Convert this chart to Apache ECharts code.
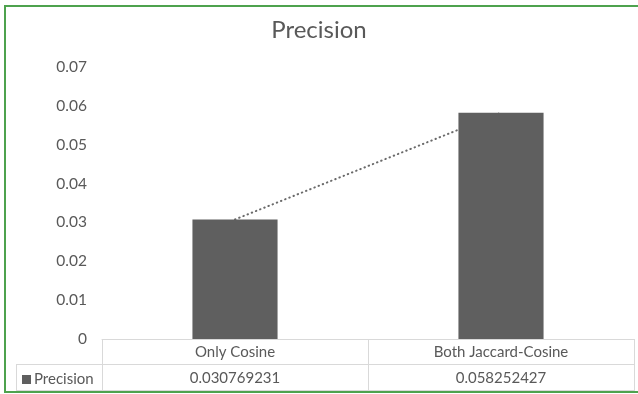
<!DOCTYPE html>
<html>
<head>
<meta charset="utf-8">
<script src="https://cdn.jsdelivr.net/npm/echarts@6/dist/echarts.min.js"></script>
<style>
  html, body { margin: 0; padding: 0; background: #fff; }
  #chart { width: 638px; height: 394px; }
</style>
</head>
<body>
<div id="chart"></div>
<script>
const categories = ['Only Cosine', 'Both Jaccard-Cosine']
const precision = [0.030769231, 0.058252427]
const seriesName = 'Precision'

const textColor = '#595959'
const lineColor = '#d9d9d9'
const font = 'Lato, "Open Sans", sans-serif'

const option = {
  animation: false,
  textStyle: { fontFamily: font },
  title: {
    text: 'Precision',
    left: 'center',
    top: 13,
    textStyle: { color: textColor, fontSize: 24, fontWeight: 'normal', fontFamily: font }
  },
  legend: {
    data: [seriesName],
    left: 17,
    top: 367,
    icon: 'rect',
    itemWidth: 9,
    itemHeight: 9,
    itemGap: 4,
    textStyle: { color: textColor, fontSize: 15, fontFamily: font, padding: [0, 0, 0, -2] }
  },
  grid: {
    left: 102,
    right: 4,
    top: 67,
    bottom: 55
  },
  xAxis: {
    type: 'category',
    data: categories,
    axisLine: { show: true, lineStyle: { color: lineColor, width: 1 } },
    axisTick: { show: true, length: 52, lineStyle: { color: lineColor } },
    axisLabel: {
      margin: 0,
      color: textColor,
      fontSize: 15,
      lineHeight: 26,
      fontFamily: font,
      formatter: (name, i) => name + '\n' + String(precision[i])
    }
  },
  yAxis: {
    type: 'value',
    min: 0,
    max: 0.07,
    interval: 0.01,
    splitLine: { show: false },
    axisLine: { show: false },
    axisTick: { show: false },
    axisLabel: {
      margin: 15,
      color: textColor,
      fontSize: 15.5,
      fontFamily: font,
      formatter: v => v === 0 ? '0' : v.toFixed(2)
    }
  },
  series: [
    {
      name: 'Linear (Precision)',
      type: 'line',
      data: precision,
      z: 1,
      symbol: 'none',
      lineStyle: { color: '#6a6a6a', width: 2, type: [0.5, 4], cap: 'round' }
    },
    {
      name: seriesName,
      type: 'bar',
      data: precision,
      z: 2,
      barWidth: '32%',
      itemStyle: { color: '#5f5f5f' }
    }
  ],
  graphic: [
    { type: 'line', shape: { x1: 16, y1: 364.5, x2: 634, y2: 364.5 }, style: { stroke: lineColor, lineWidth: 1 } },
    { type: 'line', shape: { x1: 16, y1: 390.5, x2: 634, y2: 390.5 }, style: { stroke: lineColor, lineWidth: 1 } },
    { type: 'line', shape: { x1: 16.5, y1: 364, x2: 16.5, y2: 391 }, style: { stroke: lineColor, lineWidth: 1 } },
    { type: 'rect', shape: { x: 5, y: 6, width: 640, height: 386 }, style: { fill: 'none', stroke: '#4ea24e', lineWidth: 2 }, z: 100 }
  ]
}

const myChart = echarts.init(document.getElementById('chart'))
myChart.setOption(option)
</script>
</body>
</html>
